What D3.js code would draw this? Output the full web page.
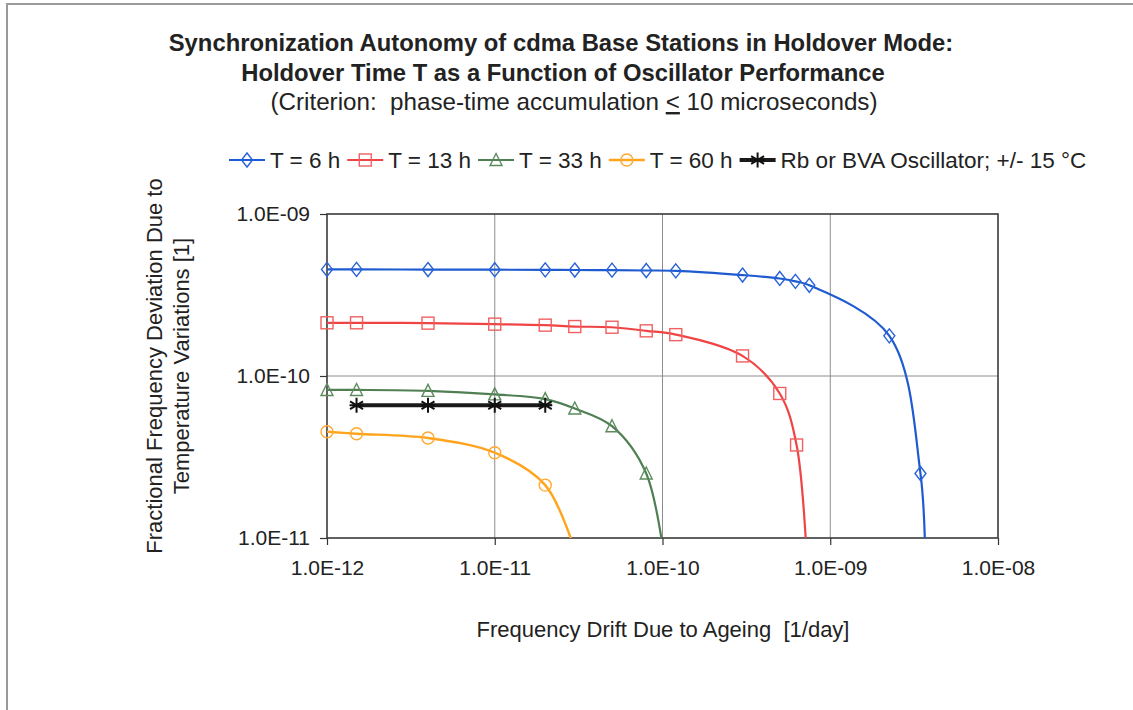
<!DOCTYPE html>
<html>
<head>
<meta charset="utf-8">
<script src="https://cdn.jsdelivr.net/npm/d3@7"></script>
<style>
  body { margin: 0; background: #fff; }
  svg { display: block; font-family: "Liberation Sans", Arial, sans-serif; }
  text { white-space: pre; }
</style>
</head>
<body>
<svg id="chart" width="1133" height="710"></svg>
<script>
// drift due to ageing [1/day] and resulting fractional frequency deviation
const drift6 = [1e-12, 1.5e-12, 4e-12, 1e-11, 2e-11, 3e-11, 5e-11, 8e-11, 1.2e-10, 3e-10, 5e-10, 6.2e-10, 7.5e-10, 2.25e-9, 3.45e-9, 3.7e-9];
const dev6 = [4.55e-10, 4.55e-10, 4.54e-10, 4.53e-10, 4.52e-10, 4.51e-10, 4.5e-10, 4.48e-10, 4.46e-10, 4.2e-10, 4.0e-10, 3.84e-10, 3.63e-10, 1.77e-10, 2.5e-11, 5e-12];

const drift13 = [1e-12, 1.5e-12, 4e-12, 1e-11, 2e-11, 3e-11, 5e-11, 8e-11, 1.2e-10, 3e-10, 5e-10, 6.3e-10, 7.4e-10];
const dev13 = [2.13e-10, 2.13e-10, 2.12e-10, 2.09e-10, 2.06e-10, 2.02e-10, 2.0e-10, 1.9e-10, 1.8e-10, 1.33e-10, 7.8e-11, 3.75e-11, 5e-12];

const drift33 = [1e-12, 1.5e-12, 4e-12, 1e-11, 2e-11, 3e-11, 5e-11, 8e-11, 1.08e-10];
const dev33 = [8.2e-11, 8.2e-11, 8.1e-11, 7.7e-11, 7.2e-11, 6.3e-11, 4.9e-11, 2.5e-11, 5e-12];

const drift60 = [1e-12, 1.5e-12, 4e-12, 1e-11, 2e-11, 3.05e-11];
const dev60 = [4.53e-11, 4.4e-11, 4.14e-11, 3.36e-11, 2.12e-11, 8e-12];

const driftRb = [1.5e-12, 4e-12, 1e-11, 2e-11];
const devRb = [6.6e-11, 6.6e-11, 6.6e-11, 6.6e-11];

const xTicks = [1e-12, 1e-11, 1e-10, 1e-9, 1e-8];
const yTicks = [1e-11, 1e-10, 1e-9];

const seriesNames = ["T = 6 h", "T = 13 h", "T = 33 h", "T = 60 h", "Rb or BVA Oscillator; +/- 15 °C"];

const series = [
  { name: seriesNames[0], xs: drift6, ys: dev6, line: "#1f5bd0", mark: "#2a62d8", shape: "diamond", w: 2.2 },
  { name: seriesNames[1], xs: drift13, ys: dev13, line: "#f04444", mark: "#f06060", shape: "square", w: 2.2 },
  { name: seriesNames[2], xs: drift33, ys: dev33, line: "#4f7f52", mark: "#5c8c5e", shape: "triangle", w: 2.2 },
  { name: seriesNames[3], xs: drift60, ys: dev60, line: "#ffa41c", mark: "#ffa830", shape: "circle", w: 2.4 },
  { name: seriesNames[4], xs: driftRb, ys: devRb, line: "#1a1a1a", mark: "#111", shape: "star", w: 3.8 }
];

const svg = d3.select("#chart");

// scanned page edge
svg.append("path").attr("d", "M7,710 L7,4 L1133,4")
  .attr("fill", "none").attr("stroke", "#9a9a9a").attr("stroke-width", 2);

const m = { left: 327, top: 214, right: 998, bottom: 538 };
const x = d3.scaleLog().domain([1e-12, 1e-8]).range([m.left, m.right]);
const y = d3.scaleLog().domain([1e-11, 1e-9]).range([m.bottom, m.top]);

// titles
const title = svg.append("g").attr("text-anchor", "middle").attr("fill", "#222");
title.append("text").attr("x", 561).attr("y", 51).attr("font-size", 23.8).attr("font-weight", "bold")
  .text("Synchronization Autonomy of cdma Base Stations in Holdover Mode:");
title.append("text").attr("x", 563).attr("y", 81).attr("font-size", 23.8).attr("font-weight", "bold")
  .text("Holdover Time T as a Function of Oscillator Performance");
const sub = title.append("text").attr("x", 574).attr("y", 110).attr("font-size", 24.2);
sub.append("tspan").text("(Criterion:  phase-time accumulation ");
sub.append("tspan").attr("text-decoration", "underline").text("<");
sub.append("tspan").text(" 10 microseconds)");

// grid
const grid = svg.append("g").attr("stroke", "#8c8c8c").attr("stroke-width", 1);
grid.selectAll("line.gx").data(xTicks.slice(1, -1)).enter().append("line")
  .attr("x1", d => x(d)).attr("x2", d => x(d)).attr("y1", m.top).attr("y2", m.bottom);
grid.selectAll("line.gy").data(yTicks.slice(1, -1)).enter().append("line")
  .attr("y1", d => y(d)).attr("y2", d => y(d)).attr("x1", m.left).attr("x2", m.right);

// axes
const xAxis = svg.append("g").attr("transform", `translate(0,${m.bottom})`)
  .call(d3.axisBottom(x).tickValues(xTicks).tickSize(7).tickPadding(15).tickFormat(d3.format(".1e")));
const yAxis = svg.append("g").attr("transform", `translate(${m.left},0)`)
  .call(d3.axisLeft(y).tickValues(yTicks).tickSize(7).tickPadding(10).tickFormat(d3.format(".1e")));
[xAxis, yAxis].forEach(a => {
  a.select(".domain").remove();
  a.selectAll(".tick line").attr("stroke", "#333").attr("stroke-width", 1.2);
  a.selectAll(".tick text").attr("font-size", 21).attr("fill", "#222").attr("font-family", "Liberation Sans, Arial, sans-serif")
    .text(d => {
      const e = Math.round(Math.log10(d));
      return "1.0E" + (e < 0 ? "-" : "+") + String(Math.abs(e)).padStart(2, "0");
    });
});
svg.append("rect").attr("x", m.left).attr("y", m.top).attr("width", m.right - m.left).attr("height", m.bottom - m.top)
  .attr("fill", "none").attr("stroke", "#3a3a3a").attr("stroke-width", 1.6);

// axis titles
svg.append("text").attr("x", 663).attr("y", 637).attr("text-anchor", "middle").attr("font-size", 22).attr("fill", "#222")
  .text("Frequency Drift Due to Ageing  [1/day]");
const yt = svg.append("text").attr("transform", "translate(162,366) rotate(-90)").attr("text-anchor", "middle")
  .attr("font-size", 22).attr("fill", "#222");
yt.append("tspan").attr("x", 0).attr("dy", 0).text("Fractional Frequency Deviation Due to");
yt.append("tspan").attr("x", 0).attr("dy", 27).text("Temperature Variations [1]");

// markers
function drawMarker(g, shape, color) {
  if (shape === "diamond") {
    g.append("path").attr("d", "M0,-7L5.5,0L0,7L-5.5,0Z");
  } else if (shape === "square") {
    g.append("rect").attr("x", -6).attr("y", -6).attr("width", 12).attr("height", 12);
  } else if (shape === "triangle") {
    g.append("path").attr("d", "M0,-6.5L6,5.5L-6,5.5Z");
  } else if (shape === "circle") {
    g.append("circle").attr("r", 6);
  } else {
    g.append("path").attr("d", "M0,-7.5L0,7.5M-6.5,-3.8L6.5,3.8M-6.5,3.8L6.5,-3.8M-7,0L7,0");
  }
  g.selectAll("*").attr("fill", "none").attr("stroke", color).attr("stroke-width", shape === "star" ? 2 : 1.4);
}

svg.append("clipPath").attr("id", "plot").append("rect")
  .attr("x", m.left).attr("y", m.top).attr("width", m.right - m.left).attr("height", m.bottom - m.top);

const line = d3.line().x(d => x(d[0])).y(d => y(d[1])).curve(d3.curveCatmullRom.alpha(0.5));

series.forEach(s => {
  const pts = s.xs.map((v, i) => [v, s.ys[i]]);
  svg.append("path").attr("clip-path", "url(#plot)").attr("d", s.shape === "star" ? d3.line().x(d => x(d[0])).y(d => y(d[1]))(pts) : line(pts))
    .attr("fill", "none").attr("stroke", s.line).attr("stroke-width", s.w);
  pts.filter(p => p[1] >= 1e-11).forEach(p => {
    drawMarker(svg.append("g").attr("transform", `translate(${x(p[0])},${y(p[1])})`), s.shape, s.mark);
  });
});

// legend
const leg = svg.append("g").attr("transform", "translate(229,160)");
let lx = 0;
series.forEach(s => {
  const g = leg.append("g").attr("transform", `translate(${lx},0)`);
  g.append("line").attr("x1", 0).attr("x2", 36).attr("stroke", s.line).attr("stroke-width", s.w);
  drawMarker(g.append("g").attr("transform", "translate(18,0)"), s.shape, s.mark);
  const t = g.append("text").attr("x", 41).attr("y", 8).attr("font-size", 22.5).attr("fill", "#222").text(s.name);
  lx += 41 + t.node().getComputedTextLength() + 7;
});
</script>
</body>
</html>
